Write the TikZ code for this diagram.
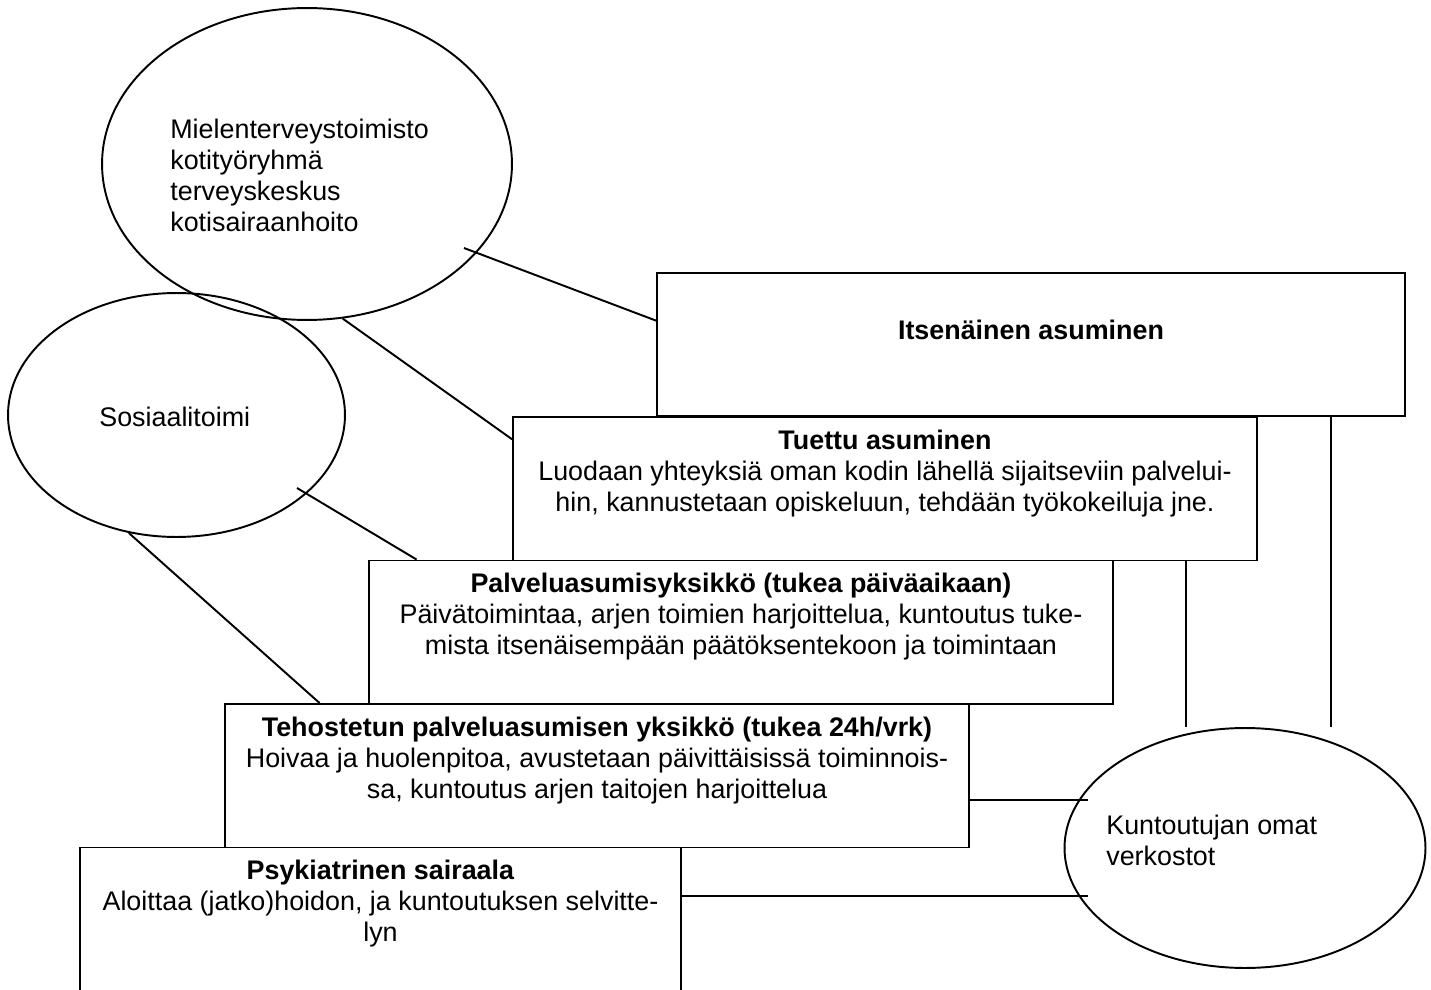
\documentclass[tikz,border=0pt]{standalone}
\usepackage{fontspec}
\setmainfont{Liberation Sans}
\usetikzlibrary{shapes.geometric,calc,positioning}

\tikzset{
  oval/.style={draw, ellipse, line width=1.1pt, inner sep=0pt},
  stage/.style={draw, rectangle, line width=1.1pt, inner sep=0pt, minimum height=2.87cm},
  stagetext/.style={anchor=north, align=center, inner sep=0pt, font=\fontsize{15.3pt}{17.6pt}\selectfont},
  ovaltext/.style={anchor=north west, align=left, inner sep=0pt, font=\fontsize{15.3pt}{17.6pt}\selectfont},
  link/.style={line width=1.1pt}
}
\newcommand{\topstrut}{\rule{0pt}{0.44cm}}

\begin{document}
\begin{tikzpicture}[x=0.02cm,y=-0.02cm]
  \useasboundingbox (0,0) rectangle (1431,990);

  % ovals
  \node[oval, minimum width=8.2cm, minimum height=6.24cm] (mielen) at (307,164) {};
  \node[oval, minimum width=6.74cm, minimum height=4.88cm] (sosiaali) at (176.5,415) {};
  \node[oval, minimum width=7.22cm, minimum height=4.8cm] (kunto) at (1245,848) {};

  \node[ovaltext] (mielenT) at (170,116)
    {\topstrut Mielenterveystoimisto\\ kotityöryhmä\\ terveyskeskus\\ kotisairaanhoito};
  \node[ovaltext, anchor=base west] (sosiaaliT) at (99,426) {Sosiaalitoimi};
  \node[ovaltext] (kuntoT) at (1106,812) {\topstrut Kuntoutujan omat\\ verkostot};

  % stages
  \node[stage, minimum width=14.96cm] (itse) at (1031,344.5) {};
  \node[stage, minimum width=14.88cm] (tuettu) at (885,488.75) {};
  \node[stage, minimum width=14.88cm] (palvelu) at (741,632.25) {};
  \node[stage, minimum width=14.88cm] (teho) at (597,775.75) {};
  \node[stage, minimum width=12.02cm, minimum height=2.94cm] (psyk) at (380.5,921) {};

  \node[stagetext, below=0.9cm of itse.north] (itseT) {\topstrut\textbf{Itsenäinen asuminen}};
  \node[stagetext, below=0.22cm of tuettu.north] (tuettuT)
    {\topstrut\textbf{Tuettu asuminen}\\
     Luodaan yhteyksiä oman kodin lähellä sijaitseviin palvelui-\\
     hin, kannustetaan opiskeluun, tehdään työkokeiluja jne.};
  \node[stagetext, below=0.22cm of palvelu.north] (palveluT)
    {\topstrut\textbf{Palveluasumisyksikkö (tukea päiväaikaan)}\\
     Päivätoimintaa, arjen toimien harjoittelua, kuntoutus tuke-\\
     mista itsenäisempään päätöksentekoon ja toimintaan};
  \node[stagetext, below=0.22cm of teho.north] (tehoT)
    {\topstrut\textbf{Tehostetun palveluasumisen yksikkö (tukea 24h/vrk)}\\
     Hoivaa ja huolenpitoa, avustetaan päivittäisissä toiminnois-\\
     sa, kuntoutus arjen taitojen harjoittelua};
  \node[stagetext, below=0.22cm of psyk.north] (psykT)
    {\topstrut\textbf{Psykiatrinen sairaala}\\
     Aloittaa (jatko)hoidon, ja kuntoutuksen selvitte-\\
     lyn};

  % loose ends inside the ovals
  \coordinate (mielenIn) at (464,248);
  \coordinate (sosiaaliIn) at (297,488);
  \coordinate (kuntoIn) at ([xshift=0.49cm]kunto.west);

  % links
  \draw[link] (mielenIn) -- ($(itse.north west)!0.336!(itse.south west)$);
  \draw[link] (mielen.-77) -- ($(tuettu.north west)!0.16!(tuettu.south west)$);
  \draw[link] (sosiaaliIn) -- ($(palvelu.north west)!0.065!(palvelu.north east)$);
  \draw[link] (sosiaali.-112) -- ($(teho.north west)!0.128!(teho.north east)$);

  \draw[link] ($(itse.south west)!0.9!(itse.south east)$) coordinate (itseK) -- (itseK |- kunto.north);
  \draw[link] ($(tuettu.south west)!0.903!(tuettu.south east)$) coordinate (tuettuK) -- (tuettuK |- kunto.north);
  \draw[link] ($(teho.north east)!0.669!(teho.south east)$) coordinate (tehoK) -- (tehoK -| kuntoIn);
  \draw[link] ($(psyk.north east)!0.33!(psyk.south east)$) coordinate (psykK) -- (psykK -| kuntoIn);
\end{tikzpicture}
\end{document}
